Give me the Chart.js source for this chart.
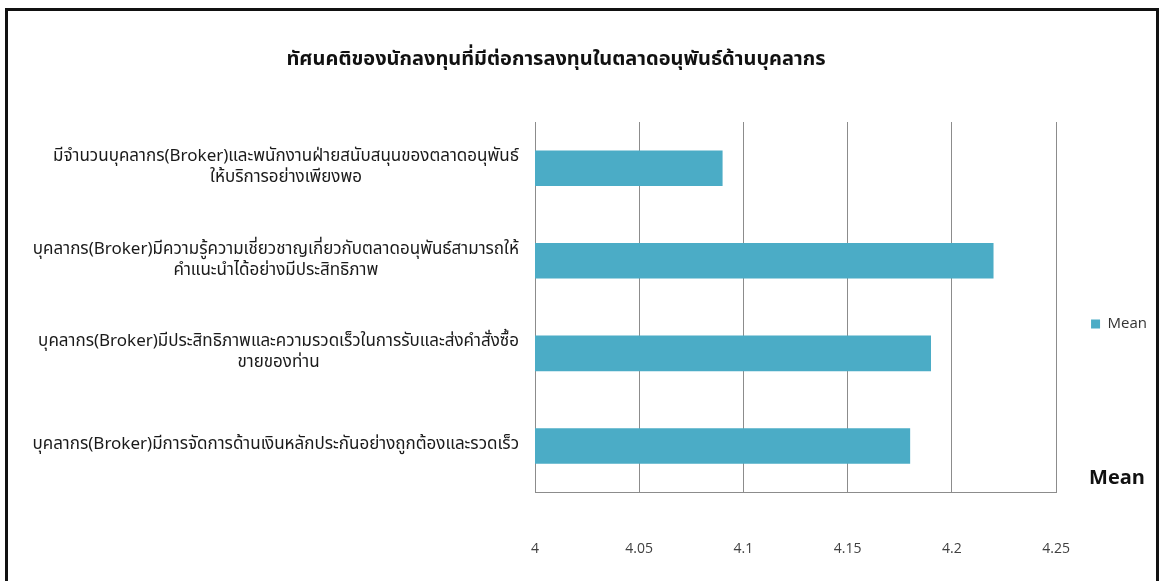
<!DOCTYPE html>
<html>
<head>
<meta charset="utf-8">
<script src="https://cdn.jsdelivr.net/npm/chart.js@4"></script>
<style>
  html, body { margin: 0; padding: 0; background: #fff; overflow: hidden; }
  #frame { position: absolute; left: 5px; top: 8px; width: 1148px; height: 600px; border: 3px solid #111; border-bottom: none; }
  #wrap { position: absolute; left: 0; top: 0; width: 1161px; height: 581px; }
</style>
</head>
<body>
<div id="frame"></div>
<div id="wrap"><canvas id="chart"></canvas></div>
<script>
// ข้อมูลกราฟ
const chartTitle = 'ทัศนคติของนักลงทุนที่มีต่อการลงทุนในตลาดอนุพันธ์ด้านบุคลากร';
const categories = [
  ['มีจำนวนบุคลากร(Broker)และพนักงานฝ่ายสนับสนุนของตลาดอนุพันธ์', 'ให้บริการอย่างเพียงพอ'],
  ['บุคลากร(Broker)มีความรู้ความเชี่ยวชาญเกี่ยวกับตลาดอนุพันธ์สามารถให้', 'คำแนะนำได้อย่างมีประสิทธิภาพ'],
  ['บุคลากร(Broker)มีประสิทธิภาพและความรวดเร็วในการรับและส่งคำสั่งซื้อ', 'ขายของท่าน'],
  ['บุคลากร(Broker)มีการจัดการด้านเงินหลักประกันอย่างถูกต้องและรวดเร็ว']
];
const seriesName = 'Mean';
const meanValues = [4.09, 4.22, 4.19, 4.18];
const xTicks = [4, 4.05, 4.1, 4.15, 4.2, 4.25];
const axisTitle = 'Mean';

const thaiFont = '"Noto Sans Thai", "Noto Sans", Tahoma, sans-serif';

// ป้ายแกน y หลายบรรทัด จัดกึ่งกลางแต่ละป้าย
const wrappedLabels = {
  id: 'wrappedLabels',
  afterDraw(chart) {
    const { ctx } = chart;
    const y = chart.scales.y;
    ctx.save();
    ctx.font = '17px ' + thaiFont;
    ctx.fillStyle = '#1a1a1a';
    ctx.textAlign = 'center';
    ctx.textBaseline = 'middle';
    const lineH = 21;
    categories.forEach((lines, i) => {
      const cy = y.getPixelForTick(i);
      const widest = Math.max(...lines.map(l => ctx.measureText(l).width));
      const cx = y.right - 16 - widest / 2;
      lines.forEach((l, j) => ctx.fillText(l, cx, cy + (j - (lines.length - 1) / 2) * lineH));
    });
    ctx.restore();
  }
};

// หัวเรื่องและชื่อแกน
const headings = {
  id: 'headings',
  afterDraw(chart) {
    const { ctx, chartArea } = chart;
    ctx.save();
    ctx.fillStyle = '#111';
    ctx.textAlign = 'center';
    ctx.textBaseline = 'middle';
    ctx.font = 'bold 20px ' + thaiFont;
    ctx.fillText(chartTitle, 556, 61);
    ctx.font = 'bold 20px "Open Sans", sans-serif';
    ctx.textAlign = 'left';
    ctx.fillText(axisTitle, chartArea.right + 33, chartArea.bottom - 14);
    ctx.restore();
  }
};

new Chart(document.getElementById('chart'), {
  type: 'bar',
  data: {
    labels: categories.map(l => l.join('')),
    datasets: [{
      label: seriesName,
      data: meanValues,
      backgroundColor: '#4bacc6',
      categoryPercentage: 0.8,
      barPercentage: 0.48
    }]
  },
  options: {
    indexAxis: 'y',
    responsive: true,
    maintainAspectRatio: false,
    animation: false,
    layout: { padding: { top: 122, left: 0, right: 4, bottom: -24 } },
    scales: {
      x: {
        min: 4,
        max: 4.25,
        afterBuildTicks: s => { s.ticks = xTicks.map(v => ({ value: v })); },
        ticks: {
          callback: v => String(v),
          padding: 48,
          maxRotation: 0,
          color: '#404040',
          font: { family: '"Open Sans", sans-serif', size: 14 }
        },
        grid: { color: '#8c8c8c', drawTicks: false },
        border: { color: '#8c8c8c' }
      },
      y: {
        afterFit: s => { s.width = 535; },
        ticks: { display: false },
        grid: { display: false },
        border: { color: '#8c8c8c' }
      }
    },
    plugins: {
      legend: {
        position: 'right',
        fullSize: false,
        title: { display: true, text: '', padding: 8, font: { size: 15 } },
        labels: {
          boxWidth: 9,
          boxHeight: 9,
          padding: 35,
          color: '#333',
          font: { family: '"Open Sans", sans-serif', size: 15 }
        }
      },
      tooltip: { enabled: false }
    }
  },
  plugins: [wrappedLabels, headings]
});
</script>
</body>
</html>
